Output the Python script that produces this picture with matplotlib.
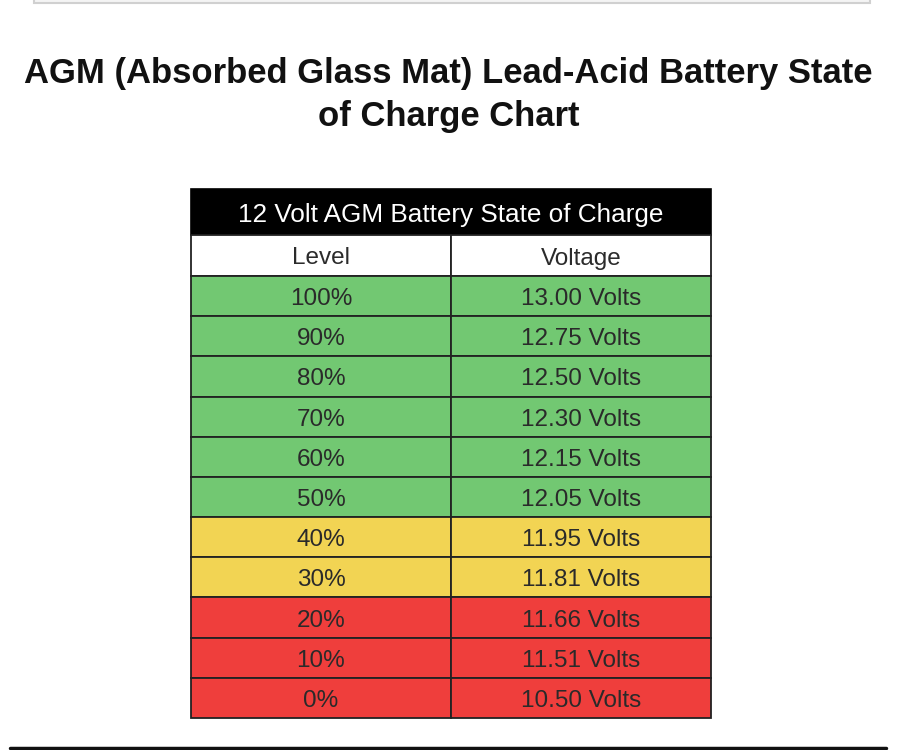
import matplotlib.pyplot as plt
from matplotlib.patches import Rectangle

plt.rcParams['font.family'] = ['Liberation Sans', 'DejaVu Sans']

title = 'AGM (Absorbed Glass Mat) Lead-Acid Battery State\nof Charge Chart'
table_title = '12 Volt AGM Battery State of Charge'
col_labels = ['Level', 'Voltage']
levels = ['100%', '90%', '80%', '70%', '60%', '50%', '40%', '30%', '20%', '10%', '0%']
voltages = [13.00, 12.75, 12.50, 12.30, 12.15, 12.05, 11.95, 11.81, 11.66, 11.51, 10.50]
status = ['good'] * 6 + ['low'] * 2 + ['critical'] * 3

colors = {'good': '#72c872', 'low': '#f2d453', 'critical': '#ef3e3c'}

W, H = 897, 750
fig = plt.figure(figsize=(W / 100, H / 100), dpi=100)
ax = fig.add_axes([0, 0, 1, 1])
ax.set_xlim(0, W)
ax.set_ylim(H, 0)
ax.axis('off')

# page decoration: card edge on top, rule at the bottom
ax.add_patch(Rectangle((34, -4), 836, 7, facecolor='#f4f4f4', edgecolor='#d0d0d0', lw=1.5))
ax.plot([10, 886], [748, 748], color='#111111', lw=2.5, solid_capstyle='round')

ax.text(W / 2, 95, title, ha='center', va='center', fontsize=24.9,
        fontweight='bold', color='#111111', linespacing=1.42)

left, right, mid = 191, 711, 451
top, head_h, lab_h = 189, 46, 41
row_h = (718 - top - head_h - lab_h) / len(levels)

# black heading row
ax.add_patch(Rectangle((left, top), right - left, head_h, facecolor='black', edgecolor='black', lw=1.2))
ax.text((left + right) / 2, top + head_h / 2 + 3, table_title, ha='center', va='center',
        fontsize=18.8, color='white')

y = top + head_h
for x0, x1, lab in [(left, mid, col_labels[0]), (mid, right, col_labels[1])]:
    ax.add_patch(Rectangle((x0, y), x1 - x0, lab_h, facecolor='white', edgecolor='#222222', lw=1.3))
    ax.text((x0 + x1) / 2, y + lab_h / 2 + 3, lab, ha='center', va='center',
            fontsize=17.5, color='#2b2b2b')

y += lab_h
for lev, v, s in zip(levels, voltages, status):
    for x0, x1, txt in [(left, mid, lev), (mid, right, f'{v:.2f} Volts')]:
        ax.add_patch(Rectangle((x0, y), x1 - x0, row_h, facecolor=colors[s],
                               edgecolor='#222222', lw=1.3))
        ax.text((x0 + x1) / 2, y + row_h / 2 + 3, txt, ha='center', va='center',
                fontsize=17.5, color='#2a2a2a')
    y += row_h

fig.savefig('out.png', dpi=100, facecolor='white')
